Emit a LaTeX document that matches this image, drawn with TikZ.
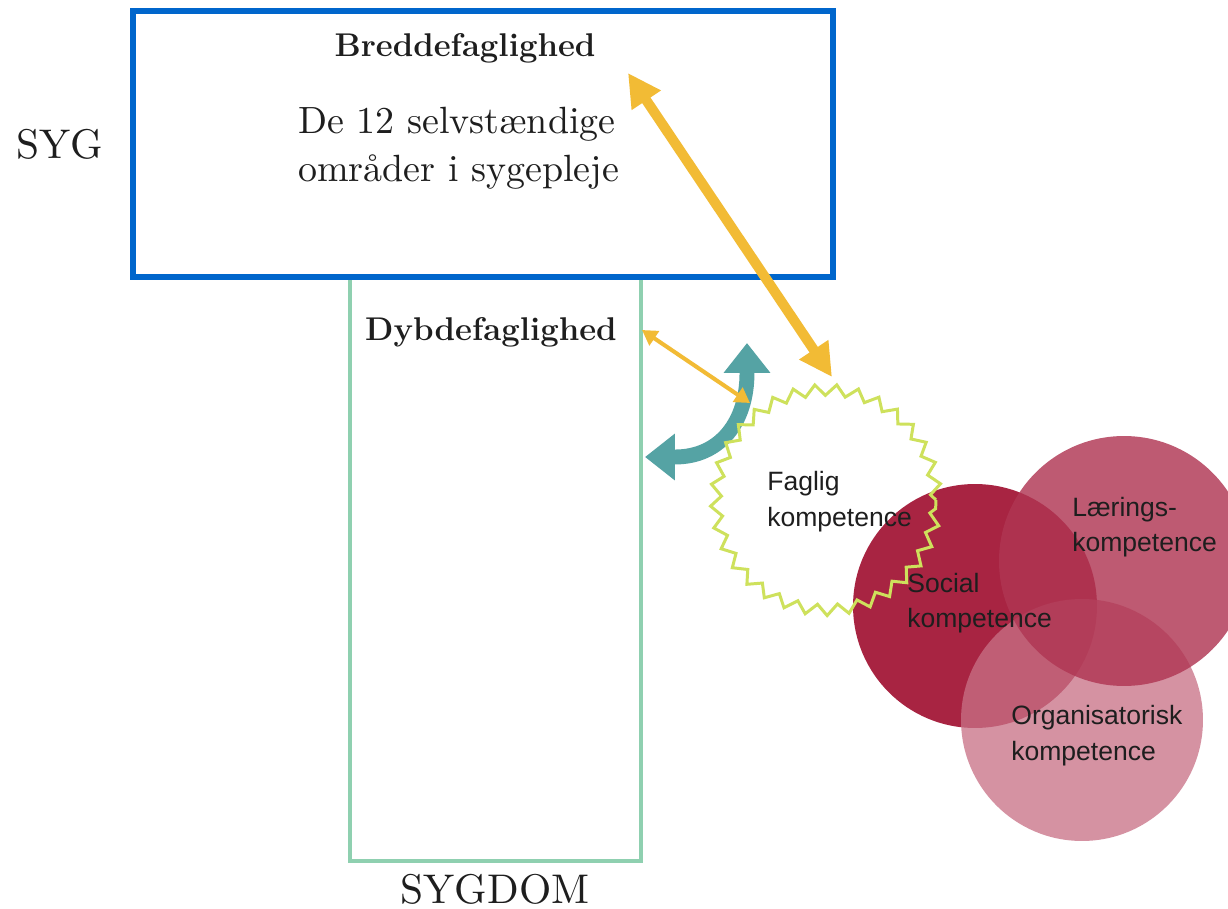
\documentclass[tikz,border=0pt]{standalone}
\usepackage{fontspec}
\newfontfamily\lsans{Liberation Sans}
\newfontfamily\lmten{lmroman10-regular.otf}
\usetikzlibrary{arrows.meta,decorations.pathmorphing}
\definecolor{boxblue}{RGB}{0,102,204}
\definecolor{boxgreen}{RGB}{143,208,176}
\definecolor{arrowyellow}{RGB}{242,187,53}
\definecolor{arrowteal}{RGB}{85,163,164}
\definecolor{zigzaggreen}{RGB}{206,225,92}
\definecolor{socialred}{RGB}{168,36,66}
\definecolor{laeringred}{RGB}{176,54,83}
\definecolor{orgpink}{RGB}{200,113,134}
\definecolor{ink}{RGB}{30,30,30}
\begin{document}
\begin{tikzpicture}[x=0.02cm,y=-0.02cm,
  serifbig/.style={font=\lmten\fontsize{23.6pt}{27pt}\selectfont, text=ink, inner sep=0},
  serifmid/.style={font=\lmten\fontsize{21.6pt}{27pt}\selectfont, text=ink, inner sep=0, anchor=base west},
  headbold/.style={font=\bfseries\fontsize{18.7pt}{22pt}\selectfont, text=ink, inner sep=0, anchor=base},
  sanslbl/.style={font=\lsans\fontsize{15.1pt}{20pt}\selectfont, text=ink, inner sep=0, anchor=base west},
  bluebox/.style={draw=boxblue, line width=3.4pt, fill=white},
  greenbox/.style={draw=boxgreen, line width=2.8pt},
  compcircle/.style={circle, inner sep=0, draw=none},
  yellowbig/.style={draw=arrowyellow, line width=5.7pt,
    {Triangle[length=18.7pt,width=18.7pt]}-{Triangle[length=18.7pt,width=18.7pt]}},
  yellowsmall/.style={draw=arrowyellow, line width=2.3pt,
    {Triangle[length=8.5pt,width=9.6pt]}-{Triangle[length=8.5pt,width=9.6pt]}},
  tealarrow/.style={draw=arrowteal, line width=8.5pt,
    {Triangle[length=17pt,width=25.5pt]}-{Triangle[length=17pt,width=25.5pt]}},
  zigline/.style={draw=zigzaggreen, line width=1.7pt, decorate,
    decoration={zigzag, segment length=0.42cm, amplitude=0.11cm}}
]
\useasboundingbox (0,0) rectangle (1228,909);
\fill[white] (0,0) rectangle (1228,909);

% boxes
\draw[greenbox] (350,270) rectangle (641,861);
\draw[bluebox] (133,11) rectangle (833,277);

% competence circles
\node[compcircle, minimum size=4.88cm, fill=socialred] (social) at (975,606) {};
\node[compcircle, minimum size=4.84cm, fill=orgpink, fill opacity=0.76] (org) at (1082,720) {};
\node[compcircle, minimum size=5.0cm, fill=laeringred, fill opacity=0.82] (laering) at (1124,561) {};

% teal curved arrow
\coordinate (tealLeft) at (645,457);
\coordinate (tealUp) at (747,343);
\draw[tealarrow] (tealLeft) -- (675,457) .. controls (720,457) and (747,422) .. (747,373) -- (tealUp);

% zigzag circle
\coordinate (faglig) at (826,500);
\draw[zigline] (faglig) circle[radius=2.2cm];

% yellow arrows
\coordinate (smallTop) at (642,330);
\coordinate (smallBot) at (750,403);
\draw[yellowsmall] (smallTop) -- (smallBot);
\coordinate (bigTop) at (628,73);
\coordinate (bigBot) at (832,377);
\draw[yellowbig] (bigTop) -- (bigBot);

% texts
\node[serifbig, anchor=base] (syg) at (60,158) {SYG};
\node[serifbig, anchor=base] (sygdom) at (495,903) {SYGDOM};
\node[headbold] (bredde) at (465,57) {Breddefaglighed};
\node[headbold] (dybde) at (491,340) {Dybdefaglighed};
\node[serifmid] (omr1) at (298,133) {De 12 selvstændige};
\node[serifmid] (omr2) at (298,181) {områder i sygepleje};

\node[sanslbl] (fag1) at (767,490) {Faglig};
\node[sanslbl] (fag2) at (767,526) {kompetence};
\node[sanslbl] (soc1) at (907,592) {Social};
\node[sanslbl] (soc2) at (907,627) {kompetence};
\node[sanslbl] (lae1) at (1072,516) {Lærings-};
\node[sanslbl] (lae2) at (1072,551) {kompetence};
\node[sanslbl] (org1) at (1011,724) {Organisatorisk};
\node[sanslbl] (org2) at (1011,760) {kompetence};
\end{tikzpicture}
\end{document}
